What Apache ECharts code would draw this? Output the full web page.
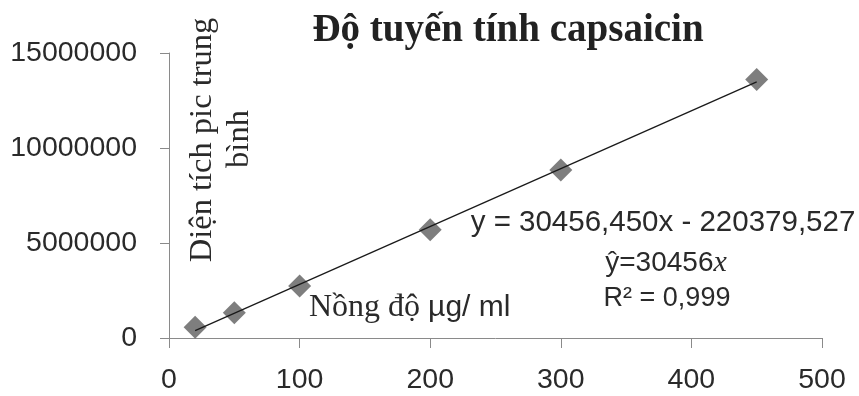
<!DOCTYPE html>
<html>
<head>
<meta charset="utf-8">
<script src="https://cdn.jsdelivr.net/npm/echarts@6/dist/echarts.min.js"></script>
<style>
html,body{margin:0;padding:0;background:#fff;}
#chart{width:859px;height:396px;}
</style>
</head>
<body>
<div id="chart"></div>
<script>
// Data
var concentrations = [20, 50, 100, 200, 300, 450];
var peakAreas = [560000, 1330000, 2740000, 5700000, 8840000, 13600000];
// Trendline end points (y = 30456,450x - 220379,527 at x = 20 and x = 450)
var trendX = [20, 450];
var trendY = [388750, 13485023];
var xTicks = [0, 100, 200, 300, 400, 500];
var yTicks = [0, 5000000, 10000000, 15000000];

var titleText = 'Độ tuyến tính capsaicin';
var yNameLines = ['Diện tích pic trung', 'bình'];
var eqText = 'y = 30456,450x - 220379,527';
var rSquared = 'R² = 0,999';

var SANS = '"Liberation Sans", Arial, sans-serif';
var SERIF = '"Liberation Serif", "Times New Roman", serif';

var chart = echarts.init(document.getElementById('chart'), null, {renderer: 'canvas'});

var option = {
  backgroundColor: '#ffffff',
  animation: false,
  grid: {left: 169, right: 37, top: 53, bottom: 58, containLabel: false},
  xAxis: {
    type: 'value', min: xTicks[0], max: xTicks[xTicks.length - 1], interval: 100,
    axisLine: {show: true, lineStyle: {color: '#8a8a8a', width: 1}},
    axisTick: {show: true, inside: false, length: 10, lineStyle: {color: '#8a8a8a'}},
    splitLine: {show: false},
    axisLabel: {color: '#2a2a2a', fontFamily: SANS, fontSize: 28.5, margin: 28,
      formatter: function (v) { return String(v); }}
  },
  yAxis: {
    type: 'value', min: yTicks[0], max: yTicks[yTicks.length - 1], interval: 5000000,
    axisLine: {show: true, lineStyle: {color: '#8a8a8a', width: 1}},
    axisTick: {show: true, inside: false, length: 9, lineStyle: {color: '#8a8a8a'}},
    splitLine: {show: false},
    axisLabel: {color: '#2a2a2a', fontFamily: SANS, fontSize: 28.5, margin: 32,
      formatter: function (v) { return String(v); }}
  },
  series: [
    {
      type: 'line',
      data: trendX.map(function (x, i) { return [x, trendY[i]]; }),
      showSymbol: false, symbol: 'none',
      lineStyle: {color: '#1a1a1a', width: 1.3},
      z: 3, silent: true
    },
    {
      type: 'scatter',
      data: concentrations.map(function (x, i) { return [x, peakAreas[i]]; }),
      symbol: 'diamond', symbolSize: [23, 23],
      itemStyle: {color: '#5e5e5e'},
      z: 2
    }
  ],
  graphic: [
    {type: 'text', x: 508, y: 31, z: 10,
     style: {text: titleText, font: 'bold 39px ' + SERIF, fill: '#222222', textAlign: 'center', textVerticalAlign: 'middle'}},
    {type: 'text', x: 202, y: 140, rotation: Math.PI / 2, z: 10,
     style: {text: yNameLines[0], font: '32.5px ' + SERIF, fill: '#2a2a2a', textAlign: 'center', textVerticalAlign: 'middle'}},
    {type: 'text', x: 239, y: 139, rotation: Math.PI / 2, z: 10,
     style: {text: yNameLines[1], font: '32.5px ' + SERIF, fill: '#2a2a2a', textAlign: 'center', textVerticalAlign: 'middle'}},
    {type: 'text', x: 309, y: 308, z: 10,
     style: {text: '{a|Nồng độ }{b|µg/ ml}', textAlign: 'left', textVerticalAlign: 'middle',
       rich: {
         a: {fontFamily: SERIF, fontSize: 32, fill: '#2a2a2a', color: '#2a2a2a'},
         b: {fontFamily: SANS, fontSize: 30, fill: '#2a2a2a', color: '#2a2a2a'}
       }}},
    {type: 'text', x: 663, y: 223, z: 10,
     style: {text: eqText, font: '29.5px ' + SANS, fill: '#2a2a2a', textAlign: 'center', textVerticalAlign: 'middle'}},
    {type: 'text', x: 666, y: 263, z: 10,
     style: {text: '{a|ŷ=30456}{b|x}', textAlign: 'center', textVerticalAlign: 'middle',
       rich: {
         a: {fontFamily: SANS, fontSize: 28, fill: '#2a2a2a', color: '#2a2a2a'},
         b: {fontFamily: SERIF, fontStyle: 'italic', fontSize: 30, fill: '#2a2a2a', color: '#2a2a2a'}
       }}},
    {type: 'text', x: 667, y: 299, z: 10,
     style: {text: rSquared, font: '27px ' + SANS, fill: '#2a2a2a', textAlign: 'center', textVerticalAlign: 'middle'}}
  ]
};
chart.setOption(option);
</script>
</body>
</html>
